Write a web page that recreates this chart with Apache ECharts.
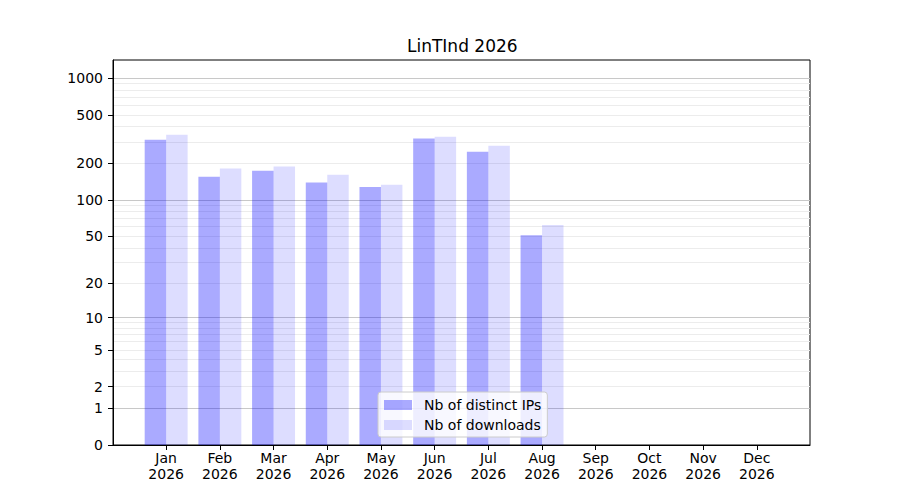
<!DOCTYPE html>
<html>
<head>
<meta charset="utf-8">
<title>LinTInd 2026</title>
<script src="https://cdn.jsdelivr.net/npm/echarts@6/dist/echarts.min.js"></script>
<style>
  html, body { margin: 0; padding: 0; background: #fff; }
  #chart { width: 900px; height: 500px; }
</style>
</head>
<body>
<div id="chart"></div>
<script>
const months = ['Jan', 'Feb', 'Mar', 'Apr', 'May', 'Jun', 'Jul', 'Aug', 'Sep', 'Oct', 'Nov', 'Dec']
const year = '2026'
const distinctIps = [313, 155, 174, 139, 128, 319, 249, 51, 0, 0, 0, 0]
const downloads = [344, 181, 188, 161, 133, 331, 279, 62, 0, 0, 0, 0]
const yTicks = [0, 1, 2, 5, 10, 20, 50, 100, 200, 500, 1000]
const majorGrid = [1, 10, 100, 1000]
const minorGrid = [2, 3, 4, 5, 6, 7, 8, 9, 20, 30, 40, 50, 60, 70, 80, 90, 200, 300, 400, 500, 600, 700, 800, 900]

const FONT = 'DejaVu Sans'

/**
 * Escala y = log10(1 + x): lineal cerca de cero, logarítmica arriba.
 */
function forward(v) {
  return Math.log10(1 + v)
}

function inverse(t) {
  return Math.round(Math.pow(10, t) - 1)
}

const yMax = 3.148

// Ejes ocultos que solo dibujan la rejilla (mayor y menor)
function gridAxis(values, color) {
  return {
    type: 'value',
    position: 'left',
    min: 0,
    max: yMax,
    axisLine: { show: false, onZero: false },
    axisLabel: { show: false },
    axisTick: { show: false, customValues: values.map(forward) },
    splitLine: { show: true, lineStyle: { color, width: 1 } },
  }
}

function barSeries(name, values, color) {
  return {
    name,
    type: 'bar',
    xAxisIndex: 0,
    yAxisIndex: 0,
    barWidth: '40%',
    barGap: '0%',
    itemStyle: { color },
    emphasis: { disabled: true },
    data: values.map((v, i) => [i, forward(v)]),
  }
}

const monthIdx = months.map((m, i) => i)

const option = {
  animation: false,
  textStyle: { fontFamily: FONT },
  title: {
    text: 'LinTInd ' + year,
    left: 407,
    top: 37,
    padding: 0,
    textStyle: { fontFamily: FONT, fontSize: 17, fontWeight: 'normal', color: '#000' },
  },
  grid: {
    left: 113,
    right: 90,
    top: 60,
    bottom: 55,
    show: true,
    borderColor: '#000',
    borderWidth: 1,
    containLabel: false,
  },
  legend: {
    orient: 'vertical',
    left: 378,
    top: 392,
    padding: [6, 6, 5, 6],
    itemWidth: 28,
    itemHeight: 10,
    itemGap: 6,
    icon: 'rect',
    backgroundColor: 'rgba(255,255,255,0.8)',
    borderColor: '#cccccc',
    borderWidth: 1,
    borderRadius: 3,
    textStyle: { fontFamily: FONT, fontSize: 14, color: '#000', padding: [0, 0, 0, 7] },
    selectedMode: false,
    data: ['Nb of distinct IPs', 'Nb of downloads'],
  },
  xAxis: {
    type: 'value',
    min: -0.99,
    max: 11.99,
    axisLine: { show: true, onZero: false, lineStyle: { color: '#000', width: 1 } },
    axisTick: { show: true, length: 5, lineStyle: { color: '#000' }, customValues: monthIdx },
    axisLabel: {
      customValues: monthIdx,
      margin: 5,
      color: '#000',
      fontFamily: FONT,
      fontSize: 14,
      lineHeight: 16,
      formatter: v => months[Math.round(v)] + '\n' + year,
    },
    splitLine: { show: false },
  },
  yAxis: [
    {
      type: 'value',
      position: 'left',
      min: 0,
      max: yMax,
      axisLine: { show: true, onZero: false, lineStyle: { color: '#000', width: 1 } },
      axisTick: { show: true, length: 5, lineStyle: { color: '#000' }, customValues: yTicks.map(forward) },
      axisLabel: {
        customValues: yTicks.map(forward),
        margin: 10,
        color: '#000',
        fontFamily: FONT,
        fontSize: 14,
        formatter: v => String(inverse(v)),
      },
      splitLine: { show: false },
    },
    gridAxis(minorGrid, '#ececec'),
    gridAxis(majorGrid, '#c8c8c8'),
  ],
  series: [
    barSeries('Nb of distinct IPs', distinctIps, 'rgba(0,0,255,0.333)'),
    barSeries('Nb of downloads', downloads, 'rgba(0,0,255,0.133)'),
  ],
}

const chart = echarts.init(document.getElementById('chart'), null, { renderer: 'svg' })
chart.setOption(option)
</script>
</body>
</html>
